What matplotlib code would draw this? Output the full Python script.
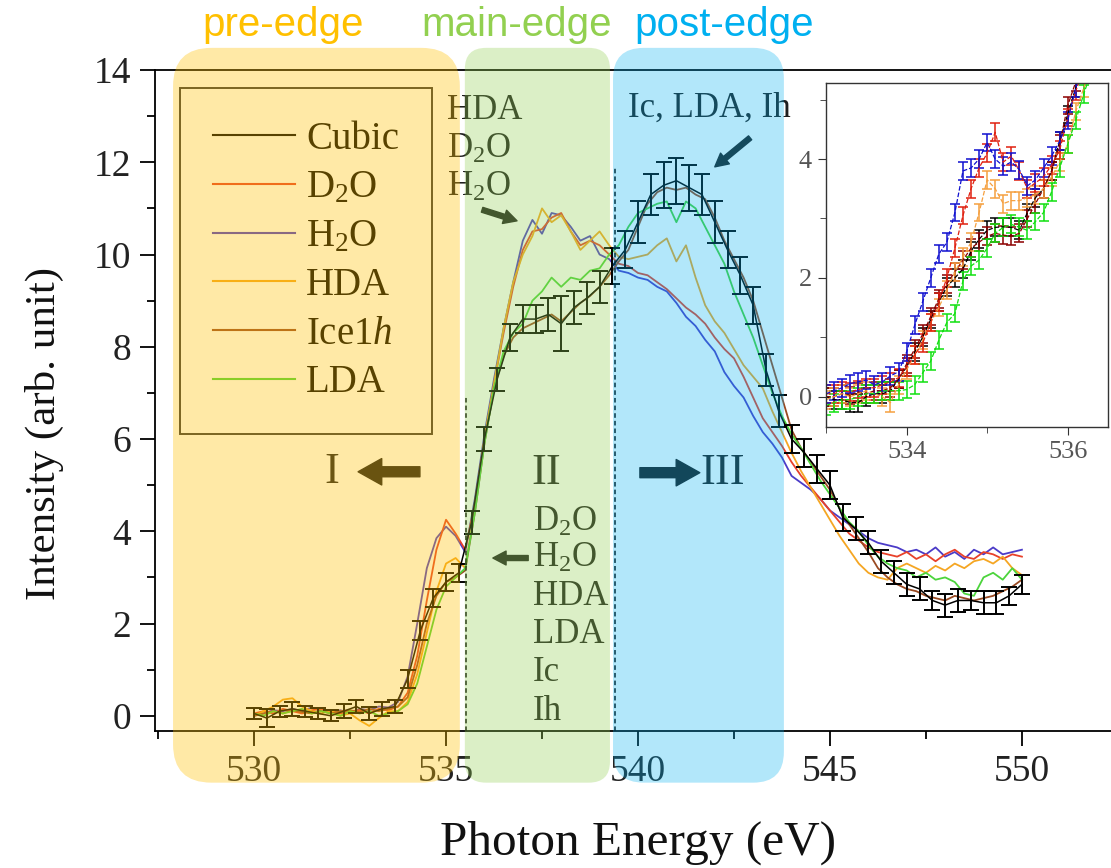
import numpy as np
import matplotlib
matplotlib.use("Agg")
import matplotlib.pyplot as plt
from matplotlib.patches import FancyBboxPatch
from matplotlib.lines import Line2D
from matplotlib.ticker import MultipleLocator

plt.rcParams['font.family'] = ['Liberation Serif', 'DejaVu Serif']
plt.rcParams['mathtext.fontset'] = 'custom'
plt.rcParams['mathtext.rm'] = 'Liberation Serif'
plt.rcParams['mathtext.it'] = 'Liberation Serif:italic'

# ---- main spectra, 530-550 eV every 0.25 eV ----
energy = np.linspace(530.0, 550.0, 81)

h2o = [0.0, 0.05, 0.12, 0.1, 0.15, 0.1, 0.18, 0.1, 0.08, 0.12, 0.06, 0.15, 0.12, 0.2, 0.18, 0.3,
       0.85, 2.0, 3.2, 3.85, 4.1, 3.9, 3.55,
       4.7, 6.1, 7.3, 8.4, 9.4, 10.3, 10.75, 10.45, 10.9, 10.85, 10.6, 10.3, 10.4, 10.0, 9.9, 9.65, 9.6,
       9.5, 9.45, 9.3, 9.2, 8.95, 8.65, 8.45, 8.15, 7.9, 7.45, 7.15, 6.9, 6.5, 6.15, 5.9, 5.6,
       5.2, 5.05, 4.9, 4.7, 4.45, 4.3, 4.15, 4.0, 3.85, 3.75, 3.7,
       3.65, 3.55, 3.6, 3.5, 3.65, 3.45, 3.55, 3.4, 3.6, 3.5, 3.65, 3.5, 3.55, 3.6]

d2o = [0.05, 0.1, 0.05, 0.15, 0.1, 0.05, 0.12, 0.15, 0.1, 0.05, 0.1, 0.12, 0.05, 0.15, 0.12, 0.2,
       0.5, 1.3, 2.5, 3.6, 4.25, 3.95, 3.6,
       4.6, 6.0, 7.2, 8.3, 9.3, 10.1, 10.5, 10.55, 10.8, 10.9, 10.5, 10.2, 10.3, 10.2, 10.0, 9.8, 9.75,
       9.6, 9.55, 9.4, 9.25, 9.05, 8.85, 8.7, 8.5, 8.2, 7.95, 7.75, 7.35, 6.9, 6.45, 6.15, 5.85,
       5.5, 5.2, 4.95, 4.7, 4.45, 4.2, 3.95, 3.8, 3.65, 3.55, 3.5,
       3.45, 3.55, 3.4, 3.5, 3.35, 3.5, 3.6, 3.45, 3.4, 3.55, 3.5, 3.4, 3.5, 3.45]

hda = [0.0, 0.1, 0.2, 0.35, 0.38, 0.2, 0.1, 0.05, 0.12, 0.0, 0.05, -0.1, -0.22, -0.05, 0.1, 0.1,
       0.3, 0.9, 1.8, 2.7, 3.3, 3.42, 3.2,
       4.5, 6.0, 7.2, 8.4, 9.4, 10.0, 10.4, 11.0, 10.7, 10.85, 10.5, 10.1, 10.3, 10.5, 10.2, 9.95, 9.9,
       9.95, 10.0, 10.2, 10.35, 9.85, 10.2, 9.5, 8.9, 8.55, 8.3, 7.95, 7.6, 7.35, 7.1, 6.6, 6.15,
       5.7, 5.3, 4.95, 4.6, 4.25, 3.9, 3.6, 3.3, 3.1, 3.0, 2.95,
       3.2, 3.3, 3.2, 3.1, 3.25, 3.15, 3.3, 3.2, 3.35, 3.4, 3.3, 3.45, 3.2, 3.05]

ice1h = [0.0, 0.05, 0.1, 0.05, 0.12, 0.08, 0.05, 0.1, 0.05, 0.1, 0.12, 0.08, 0.15, 0.1, 0.15, 0.2,
         0.4, 1.1, 2.0, 2.6, 2.9, 3.0, 3.15,
         4.4, 5.9, 7.1, 7.8, 8.2, 8.4, 8.5, 8.6, 8.7, 8.55, 8.75, 8.95, 9.1, 9.3, 9.55, 9.85, 10.1,
         10.6, 11.1, 11.35, 11.45, 11.4, 11.45, 11.3, 11.2, 10.8, 10.3, 9.9, 9.5, 9.0, 8.3, 7.6, 6.9,
         6.2, 5.8, 5.5, 5.2, 4.9, 4.5, 4.15, 3.85, 3.55, 3.2, 3.0,
         2.85, 2.75, 2.7, 2.6, 2.55, 2.5, 2.6, 2.55, 2.5, 2.55, 2.6, 2.7, 2.8, 2.95]

lda = [0.05, 0.0, 0.1, 0.05, 0.1, 0.15, 0.05, 0.1, 0.05, 0.0, 0.1, 0.05, 0.1, 0.0, 0.05, 0.1,
       0.25, 0.7, 1.5, 2.3, 2.8, 3.0, 3.2,
       4.4, 5.9, 7.1, 7.9, 8.3, 8.5, 9.0, 9.2, 9.5, 9.3, 9.5, 9.45, 9.65, 9.7, 10.0, 10.2, 10.6,
       10.9, 11.0, 11.1, 11.15, 10.7, 11.15, 11.0, 10.6, 10.2, 9.8, 9.2, 8.7, 8.2, 7.6, 7.0, 6.5,
       6.1, 5.8, 5.45, 5.1, 4.8, 4.5, 4.2, 4.0, 3.7, 3.45, 3.3,
       3.2, 3.15, 3.0, 3.1, 2.95, 3.0, 2.9, 2.65, 2.6, 3.0, 3.1, 2.95, 3.2, 2.95]

# cubic ice with error bars, every 1/3 eV
cubic_energy = np.linspace(530.0, 550.0, 61)
cubic = [0.05, -0.05, 0.1, 0.15, 0.1, 0.05, 0.0, 0.1, 0.2, 0.05, 0.15, 0.2,
         0.8, 1.85, 2.55, 2.9, 3.1, 4.2, 6.0, 7.3, 8.2, 8.6, 8.6, 8.7, 8.5, 8.85,
         9.05, 9.3, 9.75, 10.1, 10.7, 11.3, 11.5, 11.6, 11.45, 11.3, 10.7, 10.1, 9.55, 8.9,
         7.5, 6.6, 6.0, 5.7, 5.35, 5.0, 4.3, 4.05, 3.75, 3.35, 3.1, 2.85, 2.75, 2.5,
         2.4, 2.5, 2.5, 2.45, 2.45, 2.6, 2.85]
cubic_err = [0.12, 0.2, 0.12, 0.15, 0.12, 0.12, 0.12, 0.15, 0.15, 0.15, 0.15, 0.15,
             0.2, 0.2, 0.2, 0.2, 0.2, 0.25, 0.25, 0.25, 0.3, 0.3, 0.3, 0.35, 0.6, 0.35,
             0.35, 0.35, 0.4, 0.4, 0.45, 0.45, 0.5, 0.5, 0.5, 0.45, 0.45, 0.4, 0.4, 0.4,
             0.35, 0.35, 0.3, 0.3, 0.3, 0.3, 0.3, 0.25, 0.25, 0.25, 0.25, 0.25, 0.25, 0.2,
             0.25, 0.25, 0.2, 0.25, 0.25, 0.2, 0.2]

# ---- inset: pre-edge zoom, 533.0-536.3 eV every 0.1 eV ----
inset_energy = np.linspace(533.0, 536.3, 34)
ins_h2o = [0.05, 0.1, 0.15, 0.22, 0.25, 0.28, 0.2, 0.25, 0.35, 0.42, 0.75, 1.2, 1.6, 2.0, 2.4, 2.6, 3.1,
           3.8, 3.85, 4.0, 4.28, 4.0, 3.88, 3.95, 3.82, 3.55, 3.65, 3.85, 4.05, 4.3, 4.65, 5.2, 5.6, 6.0]
ins_d2o = [0.05, 0.05, 0.1, 0.08, 0.12, 0.15, 0.15, 0.2, 0.25, 0.32, 0.5, 0.7, 0.9, 1.25, 1.6, 2.0, 2.5,
           3.05, 3.5, 3.85, 4.1, 4.45, 3.95, 4.05, 3.8, 3.5, 3.6, 3.7, 3.9, 4.15, 4.7, 5.15, 5.5, 5.9]
ins_hda = [-0.05, 0.0, 0.05, 0.0, 0.05, 0.1, 0.05, 0.0, -0.1, 0.2, 0.45, 0.7, 0.95, 1.25, 1.5, 1.8, 2.1,
           2.35, 2.6, 3.1, 3.65, 3.5, 3.25, 3.3, 3.3, 3.35, 3.4, 3.5, 3.7, 3.95, 4.25, 4.8, 5.2, 5.6]
ins_cubic = [0.0, -0.05, -0.05, -0.1, -0.1, 0.0, 0.05, 0.05, 0.1, 0.3, 0.5, 0.75, 1.0, 1.3, 1.6, 1.85, 2.0,
             2.15, 2.45, 2.65, 2.8, 2.85, 2.86, 2.85, 2.8, 3.1, 3.35, 3.5, 3.8, 4.3, 4.75, 5.2, 5.6, 6.0]
ins_ice1h = [0.0, 0.0, 0.05, 0.02, 0.08, 0.05, 0.1, 0.1, 0.15, 0.3, 0.55, 0.8, 1.05, 1.35, 1.65, 1.9, 2.1,
             2.3, 2.5, 2.6, 2.7, 2.75, 2.72, 2.7, 2.75, 3.0, 3.25, 3.5, 3.8, 4.25, 4.9, 5.3, 5.7, 6.1]
ins_lda = [-0.15, -0.1, -0.05, -0.05, 0.0, 0.05, 0.05, 0.1, 0.1, 0.1, 0.12, 0.2, 0.4, 0.6, 0.95, 1.25, 1.4,
           1.95, 2.2, 2.3, 2.5, 2.75, 2.85, 2.9, 2.85, 2.8, 2.95, 3.1, 3.45, 3.85, 4.25, 4.65, 5.1, 5.5]
inset_err = 0.15

labels = ['Cubic', 'D$_2$O', 'H$_2$O', 'HDA', 'Ice1$h$', 'LDA']
colors = {'Cubic': 'black', 'D2O': '#e8412a', 'H2O': '#4b3bc8',
          'HDA': '#f5a623', 'Ice1h': '#9a4a22', 'LDA': '#4cd43c'}
ins_colors = {'Cubic': 'black', 'D2O': '#e02010', 'H2O': '#1010d0',
              'HDA': '#f5a040', 'Ice1h': '#8b0000', 'LDA': '#10e010'}

W, H = 1111, 868
fig = plt.figure(figsize=(W / 100, H / 100), dpi=100)
ax = fig.add_axes([155 / W, 137 / H, 956 / W, 661 / H])

ax.plot(energy, h2o, color=colors['H2O'], lw=1.3)
ax.plot(energy, d2o, color=colors['D2O'], lw=1.3)
ax.plot(energy, hda, color=colors['HDA'], lw=1.3)
ax.plot(energy, ice1h, color=colors['Ice1h'], lw=1.3)
ax.plot(energy, lda, color=colors['LDA'], lw=1.3)
ax.errorbar(cubic_energy, cubic, yerr=cubic_err, color='black', lw=1.1,
            elinewidth=1.4, capsize=6, capthick=1.4)

ax.set_xlim(527.42, 552.32)
ax.set_ylim(-0.33, 14)
ax.xaxis.set_major_locator(MultipleLocator(5))
ax.xaxis.set_minor_locator(MultipleLocator(2.5))
ax.yaxis.set_major_locator(MultipleLocator(2))
ax.yaxis.set_minor_locator(MultipleLocator(1))
ax.tick_params(which='both', direction='out', width=1.3, labelsize=27,
               labelcolor='#222222', pad=6)
ax.tick_params(which='major', length=11)
ax.tick_params(which='minor', length=6)
ax.spines['right'].set_visible(False)
for s in ('left', 'top', 'bottom'):
    ax.spines[s].set_linewidth(1.3)

ax.set_xlabel('Photon Energy (eV)', fontsize=35.5, color='#111111', va='baseline')
ax.xaxis.set_label_coords(0.505, -0.187)
ax.set_ylabel('Intensity (arb. unit)', fontsize=31, color='#111111')
ax.yaxis.set_label_coords(-0.095, 0.45)

handles = [Line2D([], [], color=colors[k], lw=1.5)
           for k in ('Cubic', 'D2O', 'H2O', 'HDA', 'Ice1h', 'LDA')]
leg = ax.legend(handles, labels, loc='upper left', bbox_to_anchor=(0.026, 0.973),
                borderaxespad=0, fontsize=28, frameon=True, fancybox=False,
                handlelength=2.1, handletextpad=0.3, labelspacing=0.3, borderpad=0.85)
leg.get_frame().set_edgecolor('black')
leg.get_frame().set_linewidth(1.4)
leg.get_frame().set_facecolor('none')

# edge separators
ax.vlines(535.52, -0.33, 6.95, colors='black', linestyles=(0, (3, 2)), lw=1.1)
ax.vlines(539.4, -0.33, 11.9, colors='black', linestyles=(0, (3, 2)), lw=1.1)

tc = '#1e1e1e'
for txt, y in [('HDA', 13.13), ('D$_2$O', 12.27), ('H$_2$O', 11.46)]:
    ax.text(535.03, y, txt, fontsize=25, color=tc, ha='left', va='center')
ax.text(539.74, 13.18, 'Ic, LDA, Ih', fontsize=25, color=tc, ha='left', va='center')
for txt, y in [('D$_2$O', 4.2), ('H$_2$O', 3.42), ('HDA', 2.58),
               ('LDA', 1.76), ('Ic', 0.93), ('Ih', 0.09)]:
    ax.text(537.27, y, txt, fontsize=25, color=tc, ha='left', va='center')
ax.text(532.03, 5.29, 'I', fontsize=32, color=tc, ha='center', va='center')
ax.text(537.6, 5.27, 'II', fontsize=32, color=tc, ha='center', va='center')
ax.text(542.21, 5.27, 'III', fontsize=32, color=tc, ha='center', va='center')

small = dict(arrowstyle='simple,head_length=0.95,head_width=1.0,tail_width=0.36',
             color='#1e1e1e', shrinkA=0, shrinkB=0, mutation_scale=10)
big = dict(arrowstyle='simple,head_length=0.85,head_width=0.95,tail_width=0.36',
           color='#1a1a1a', shrinkA=0, shrinkB=0, mutation_scale=20)
ax.annotate('', xy=(536.85, 10.73), xytext=(535.94, 10.97), arrowprops=small)
ax.annotate('', xy=(542.0, 11.9), xytext=(542.92, 12.53), arrowprops=small)
ax.annotate('', xy=(536.22, 3.42), xytext=(537.14, 3.42), arrowprops=small)
ax.annotate('', xy=(532.71, 5.29), xytext=(534.32, 5.29), arrowprops=big)
ax.annotate('', xy=(541.61, 5.27), xytext=(540.05, 5.27), arrowprops=big)

# coloured region boxes
aspect = 38.4 / 46.14
regions = [(527.89, 535.36, '#ffc000', 0.35, 1.0),
           (535.49, 539.27, '#92d050', 0.32, 0.55),
           (539.35, 543.8, '#00b0f0', 0.30, 0.8)]
for x0, x1, c, a, r in regions:
    box = FancyBboxPatch((x0, -1.45), x1 - x0, 14.48 + 1.45,
                         boxstyle='round,pad=0,rounding_size=%g' % r,
                         mutation_aspect=aspect, facecolor=c, edgecolor='none',
                         alpha=a, zorder=10, clip_on=False)
    ax.add_patch(box)

for txt, xc, c in [('pre-edge', 283, '#ffc000'), ('main-edge', 517, '#92d050'),
                   ('post-edge', 724, '#00b0f0')]:
    fig.text(xc / W, 1 - 25 / H, txt, fontsize=29, color=c, family='Liberation Sans',
             ha='center', va='center')

# inset
ins = fig.add_axes([826 / W, (H - 427) / H, 282 / W, 344 / H])
for vals, k in [(ins_cubic, 'Cubic'), (ins_ice1h, 'Ice1h'), (ins_hda, 'HDA'),
                (ins_lda, 'LDA'), (ins_d2o, 'D2O'), (ins_h2o, 'H2O')]:
    ins.errorbar(inset_energy, vals, yerr=inset_err, color=ins_colors[k], lw=0.9,
                 ls='--', elinewidth=1.1, capsize=3.5, capthick=1.1)
ins.set_xlim(533.0, 536.5)
ins.set_ylim(-0.51, 5.28)
ins.xaxis.set_major_locator(MultipleLocator(2))
ins.xaxis.set_minor_locator(MultipleLocator(1))
ins.yaxis.set_major_locator(MultipleLocator(2))
ins.yaxis.set_minor_locator(MultipleLocator(1))
ins.tick_params(which='both', direction='out', labelsize=19, labelcolor='#555555',
                color='#333333', pad=4)
ins.tick_params(which='major', length=6)
ins.tick_params(which='minor', length=4)
for s in ins.spines.values():
    s.set_color('#333333')
    s.set_linewidth(1.0)

fig.savefig('out.png', dpi=100)
